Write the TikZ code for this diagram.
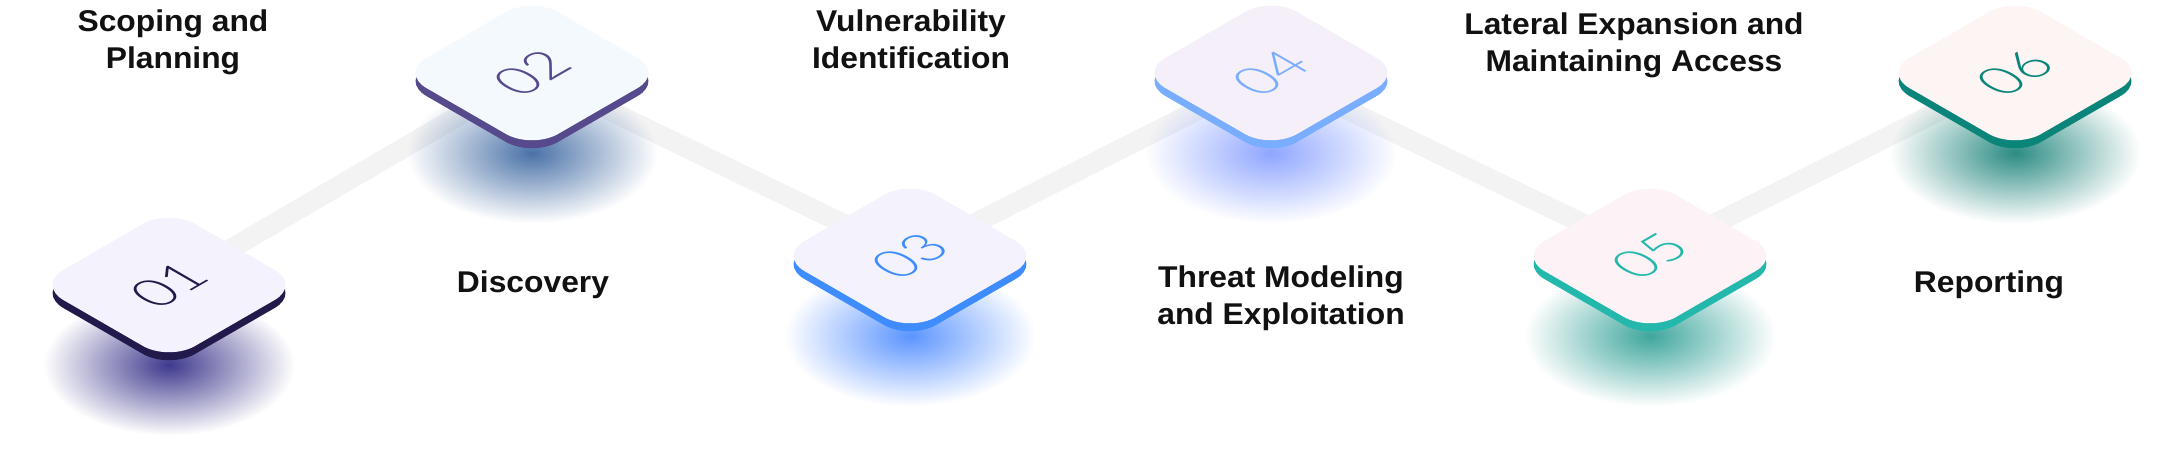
\documentclass[tikz,border=0pt]{standalone}
\usepackage{fontspec}
\setmainfont{Liberation Sans}
\newfontfamily\labfont{Liberation Sans}[FakeStretch=1.06]
\newfontfamily\numfont{Lato Light}
\usetikzlibrary{fadings}
\tikzfading[name=glowfade, inner color=transparent!0, outer color=transparent!100]
\definecolor{barc}{HTML}{F3F3F3}
\definecolor{labc}{HTML}{111111}
\definecolor{topA}{HTML}{F4F2FD}\definecolor{sideA}{HTML}{211A4A}\definecolor{glowA}{HTML}{3F3A8E}
\definecolor{topB}{HTML}{F4F9FE}\definecolor{sideB}{HTML}{564A8C}\definecolor{glowB}{HTML}{4A72A8}
\definecolor{topC}{HTML}{F4F3FD}\definecolor{sideC}{HTML}{3F8CFF}\definecolor{glowC}{HTML}{5C95FF}
\definecolor{topD}{HTML}{F4EFF9}\definecolor{sideD}{HTML}{79ADFF}\definecolor{glowD}{HTML}{8FA6FF}
\definecolor{topE}{HTML}{FDF3F7}\definecolor{sideE}{HTML}{24B8AC}\definecolor{glowE}{HTML}{3FA79E}
\definecolor{topF}{HTML}{FDF4F4}\definecolor{sideF}{HTML}{0B8579}\definecolor{glowF}{HTML}{2C8C84}
\newcommand\tileface[1]{\fill[#1] (-46,-76) -- (46,-76) .. controls (62.6,-76) and (76,-62.6) .. (76,-46) -- (76,46) .. controls (76,62.6) and (62.6,76) .. (46,76) -- (-46,76) .. controls (-62.6,76) and (-76,62.6) .. (-76,46) -- (-76,-46) .. controls (-76,-62.6) and (-62.6,-76) .. (-46,-76) -- cycle;}
\newcommand\glowat[2]{\fill[#2, path fading=glowfade] ([xshift=-125pt,yshift=-150pt]#1) rectangle ([xshift=125pt,yshift=-10pt]#1);}
\newcommand\tile[5]{%
  \begin{scope}[shift={(#1)}, yshift=-8pt]
    \begin{scope}[cm={0.866,0.5,-0.866,0.5,(0,0)}]
      \tileface{#3}
    \end{scope}
  \end{scope}
  \fill[#3] ([xshift=-116.4pt, yshift=-8pt]#1) rectangle ([xshift=116.4pt]#1);
  \begin{scope}[shift={(#1)}, cm={0.866,0.5,-0.866,0.5,(0,0)}]
    \tileface{#2}
    \node[digit, text=#3, transform shape] (#5) at (0,0) {#4};
  \end{scope}
}
\begin{document}
\begin{tikzpicture}[x=1pt,y=1pt,
  bar/.style={line width=20pt, draw=barc},
  digit/.style={font=\numfont\fontsize{54}{54}\selectfont, inner sep=0pt},
  lab/.style={font=\labfont\bfseries\fontsize{30}{37}\selectfont, text=labc, inner sep=0pt, anchor=base}]
\useasboundingbox (0,0) rectangle (2182,-470);
\fill[white] (0,0) rectangle (2182,-470);
\coordinate (c1) at (169,-285);
\coordinate (c2) at (532,-73);
\coordinate (c3) at (910,-256);
\coordinate (c4) at (1271,-73);
\coordinate (c5) at (1650,-256);
\coordinate (c6) at (2015,-73);
\draw[bar] (c1) -- (c2) -- (c3) -- (c4) -- (c5) -- (c6);
\glowat{c1}{glowA}
\glowat{c2}{glowB}
\glowat{c3}{glowC}
\glowat{c4}{glowD}
\glowat{c5}{glowE}
\glowat{c6}{glowF}
\tile{c1}{topA}{sideA}{01}{n1}
\tile{c2}{topB}{sideB}{02}{n2}
\tile{c3}{topC}{sideC}{03}{n3}
\tile{c4}{topD}{sideD}{04}{n4}
\tile{c5}{topE}{sideE}{05}{n5}
\tile{c6}{topF}{sideF}{06}{n6}
\setlength{\tabcolsep}{0pt}
\node[lab] (L1) at (173,-32) {\begin{tabular}[t]{c}Scoping and\\Planning\end{tabular}};
\node[lab] (L2) at (533,-293) {Discovery};
\node[lab] (L3) at (911,-32) {\begin{tabular}[t]{c}Vulnerability\\Identification\end{tabular}};
\node[lab] (L4) at (1281,-288) {\begin{tabular}[t]{c}Threat Modeling\\and Exploitation\end{tabular}};
\node[lab] (L5) at (1634,-35) {\begin{tabular}[t]{c}Lateral Expansion and\\Maintaining Access\end{tabular}};
\node[lab] (L6) at (1989,-293) {Reporting};
\end{tikzpicture}
\end{document}
